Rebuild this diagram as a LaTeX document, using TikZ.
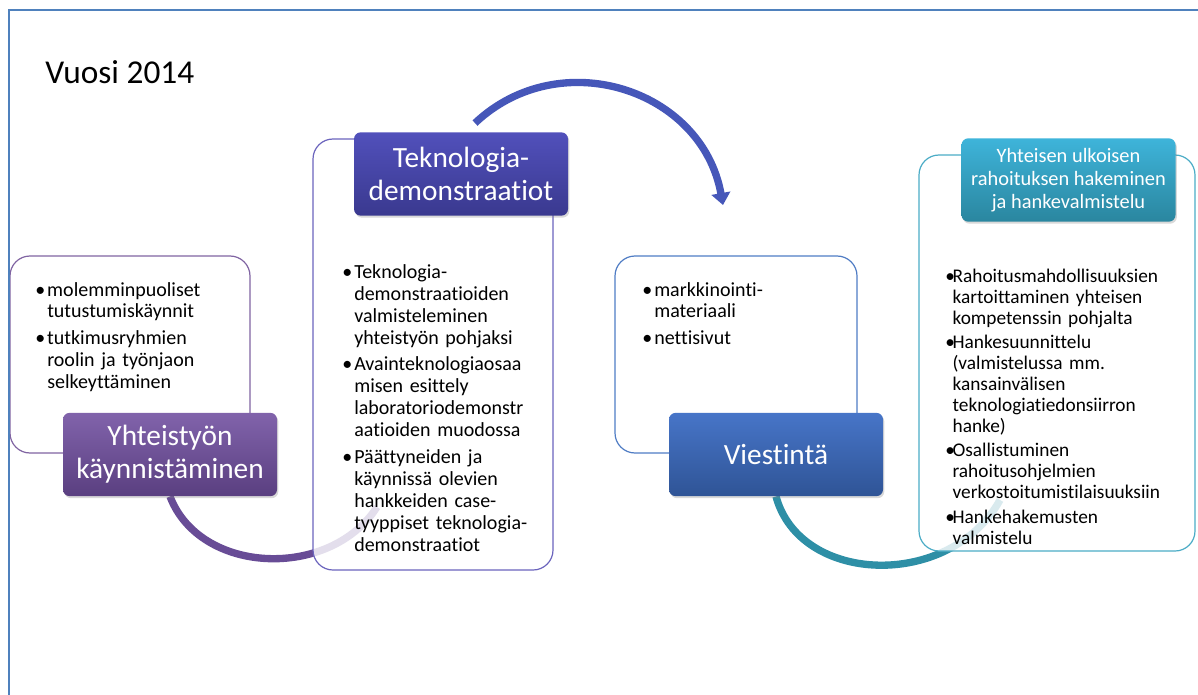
\documentclass[tikz,border=0pt]{standalone}
\usepackage{fontspec}
\setmainfont{Carlito}[Ligatures=NoCommon]
\usepackage{xcolor}
\usetikzlibrary{arrows.meta, fit, shadows}

\pgfdeclarelayer{back}
\pgfdeclarelayer{mid}
\pgfsetlayers{back,mid,main}

\definecolor{frameblue}{HTML}{4F81BD}
\definecolor{lilatop}{HTML}{8163AB}
\definecolor{lilabot}{HTML}{5A3F80}
\definecolor{lilaline}{HTML}{8064A2}
\definecolor{lilacurve}{HTML}{684C96}
\definecolor{indigotop}{HTML}{5150BB}
\definecolor{indigobot}{HTML}{3A398F}
\definecolor{indigoline}{HTML}{6B64BD}
\definecolor{arrowblue}{HTML}{4657B9}
\definecolor{bluetop}{HTML}{4775C8}
\definecolor{bluebot}{HTML}{2F5496}
\definecolor{blueline}{HTML}{4F7CC4}
\definecolor{tealtop}{HTML}{3EB4DA}
\definecolor{tealbot}{HTML}{2A869F}
\definecolor{tealline}{HTML}{4BACC6}
\definecolor{tealcurve}{HTML}{2E8FA6}

\newlength\bulw
\newlength\itmgap
\newcommand{\itm}[1]{\hangindent=\bulw\hangafter=1\noindent\hbox to \bulw{\textbullet\hfil}#1\par\vskip\itmgap}

\tikzstyle{frame} = [draw=frameblue, line width=1.1pt]
\tikzstyle{panel} = [rectangle, rounded corners=15pt, line width=0.9pt, fill=white, fill opacity=0.82, inner sep=0pt]
\tikzstyle{heading} = [rectangle, rounded corners=5pt, inner sep=0pt, minimum width=160.5pt, minimum height=62.5pt, align=center, text=white, font=\fontsize{22}{24.75}\selectfont, drop shadow={opacity=0.3, shadow xshift=1pt, shadow yshift=-1.5pt}]
\tikzstyle{bullets} = [anchor=base west, inner sep=0pt, align=left, font={\fontsize{15}{16.5}\selectfont\setlength\bulw{9pt}\setlength\itmgap{3.5pt}}]
\tikzstyle{link} = [line width=5.5pt]

\begin{document}
\begin{tikzpicture}[x=0.75pt, y=-0.75pt]
\useasboundingbox (0,0) rectangle (1198,695);
\draw[frame] (1198,10) -- (9,10) -- (9,695);

\node (year) [anchor=base west, inner sep=0pt, font=\fontsize{25}{30}\selectfont] at (45,84) {Vuosi 2014};

% headings
\node (t1) [heading, top color=lilatop, bottom color=lilabot] at (170,454.5) {Yhteistyön\\käynnistäminen};
\node (t2) [heading, top color=indigotop, bottom color=indigobot] at (461,174) {Teknologia-\\demonstraatiot};
\node (t3) [heading, top color=bluetop, bottom color=bluebot] at (776,454.5) {Viestintä};
\node (t4) [heading, top color=tealtop, bottom color=tealbot, font=\fontsize{15.3}{17.25}\selectfont] at (1068.5,180) {Yhteisen ulkoisen\\rahoituksen hakeminen\\ja hankevalmistelu};

% panels
\begin{pgfonlayer}{mid}
\node (box1) [panel, draw=lilaline, fit={(10,256) (250,453)}] {};
\node (box2) [panel, draw=indigoline, fit={(313,139) (553,570)}] {};
\node (box3) [panel, draw=blueline, fit={(615,256) (857,453)}] {};
\node (box4) [panel, draw=tealline, fit={(919,155) (1195,551)}] {};
\end{pgfonlayer}

% free ends of the connectors
\coordinate (end1) at (377,507);
\coordinate (end2) at (723,205);
\coordinate (end3) at (1000,500);

% connectors, under the panels
\begin{pgfonlayer}{back}
\draw[link, lilacurve] (t1.south) .. controls (200,575) and (330,580) .. (end1);
\draw[link, tealcurve] (t3.south) .. controls (800,585) and (950,590) .. (end3);
\draw[link, arrowblue, -{Triangle[width=14pt, length=9pt]}] ([shift={(14,-9)}]t2.north) .. controls (560,43) and (702,89) .. (end2);
\end{pgfonlayer}

% lists
\node (list1) [bullets, text width=170pt] at (35,296) {%
\itm{molemminpuoliset\newline tutustumiskäynnit}
\itm{tutkimusryhmien\newline roolin ja työnjaon\newline selkeyttäminen}};
\node (list2) [bullets, text width=170pt] at (342,278) {%
\itm{Teknologia-\newline demonstraatioiden\newline valmisteleminen\newline yhteistyön pohjaksi}
\itm{Avainteknologiaosaa\newline misen esittely\newline laboratoriodemonstr\newline aatioiden muodossa}
\itm{Päättyneiden ja\newline käynnissä olevien\newline hankkeiden case-\newline tyyppiset teknologia-\newline demonstraatiot}};
\node (list3) [bullets, text width=170pt] at (642,296) {%
\itm{markkinointi-\newline materiaali}
\itm{nettisivut}};
\node (list4) [bullets, text width=200pt, font={\fontsize{14.5}{15.75}\selectfont\setlength\bulw{5.5pt}\setlength\itmgap{2.5pt}}] at (945,282) {%
\itm{Rahoitusmahdollisuuksien\newline kartoittaminen yhteisen\newline kompetenssin pohjalta}
\itm{Hankesuunnittelu\newline (valmistelussa mm.\newline kansainvälisen\newline teknologiatiedonsiirron\newline hanke)}
\itm{Osallistuminen\newline rahoitusohjelmien\newline verkostoitumistilaisuuksiin}
\itm{Hankehakemusten\newline valmistelu}};
\end{tikzpicture}
\end{document}
